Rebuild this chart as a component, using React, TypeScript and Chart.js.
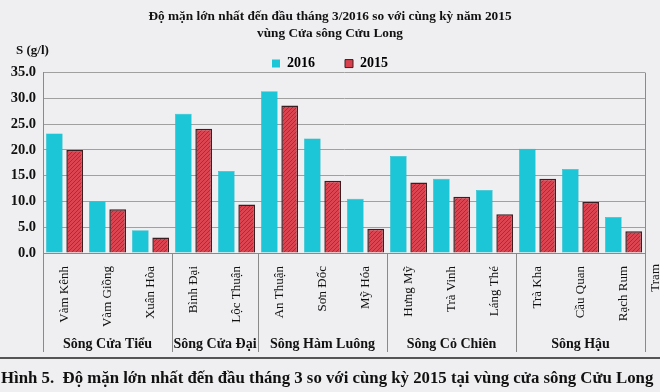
import React, { useEffect, useRef } from "react";
import { Chart, registerables } from "chart.js";

Chart.register(...registerables);

const categories = [
  "Vàm Kênh", "Vàm Giồng", "Xuân Hòa",
  "Bình Đại", "Lộc Thuận",
  "An Thuận", "Sơn Đốc", "Mỹ Hóa",
  "Hưng Mỹ", "Trà Vinh", "Láng Thé",
  "Trà Kha", "Cầu Quan", "Rạch Rum",
];
const values2016 = [23.2, 10.0, 4.4, 27.0, 15.9, 31.4, 22.2, 10.5, 18.8, 14.4, 12.2, 20.2, 16.3, 7.0];
const values2015 = [20.0, 8.5, 3.0, 24.1, 9.4, 28.6, 14.0, 4.7, 13.7, 10.9, 7.5, 14.4, 9.9, 4.2];
const groupNames = ["Sông Cửa Tiểu", "Sông Cửa Đại", "Sông Hàm Luông", "Sông Cỏ Chiên", "Sông Hậu"];
const groupSizes = [3, 2, 3, 3, 3];
const yTicks = [0, 5, 10, 15, 20, 25, 30, 35];
const titleLines = [
  "Độ mặn lớn nhất đến đầu tháng 3/2016 so với cùng kỳ năm 2015",
  "vùng Cửa sông Cửu Long",
];
const caption = "Hình 5.  Độ mặn lớn nhất đến đầu tháng 3 so với cùng kỳ 2015 tại vùng cửa sông Cửu Long";

const SERIF = "'Liberation Serif', 'DejaVu Serif', serif";
const CYAN = "#1cc6d6";
const RED = "#d8404e";

function makeHatch(): CanvasPattern | string {
  const c = document.createElement("canvas");
  c.width = 4;
  c.height = 4;
  const g = c.getContext("2d");
  if (!g) return RED;
  g.fillStyle = "#dc4452";
  g.fillRect(0, 0, 4, 4);
  g.strokeStyle = "rgba(120,10,25,0.45)";
  g.lineWidth = 1;
  g.beginPath();
  g.moveTo(0, 4);
  g.lineTo(4, 0);
  g.stroke();
  const p = g.createPattern(c, "repeat");
  return p || RED;
}

const decor = {
  id: "decor",
  beforeDraw(chart: any) {
    const ctx = chart.ctx;
    ctx.save();
    ctx.fillStyle = "#efeff1";
    ctx.fillRect(0, 0, chart.width, chart.height);
    ctx.restore();
  },
  afterDraw(chart: any) {
    const ctx = chart.ctx;
    const area = chart.chartArea;
    const xs = chart.scales.x;
    ctx.save();
    // y unit label
    ctx.fillStyle = "#111";
    ctx.font = `bold 13px ${SERIF}`;
    ctx.textAlign = "left";
    ctx.textBaseline = "middle";
    ctx.fillText("S (g/l)", 16, 51);

    // separators
    const lineBottom = 352;
    ctx.strokeStyle = "#8a8a8a";
    ctx.lineWidth = 1;
    let idx = 0;
    const bounds: number[] = [area.left];
    groupSizes.forEach((n) => {
      idx += n;
      bounds.push(idx >= categories.length ? area.right : xs.getPixelForValue(idx - 0.5));
    });
    ctx.beginPath();
    bounds.forEach((b, i) => {
      const top = i === 0 || i === bounds.length - 1 ? area.top : area.bottom;
      ctx.moveTo(Math.round(b) + 0.5, top);
      ctx.lineTo(Math.round(b) + 0.5, lineBottom);
    });
    ctx.stroke();

    // group labels
    ctx.fillStyle = "#111";
    ctx.font = `bold 14px ${SERIF}`;
    ctx.textAlign = "center";
    ctx.textBaseline = "middle";
    groupNames.forEach((g, i) => {
      ctx.fillText(g, (bounds[i] + bounds[i + 1]) / 2, 344);
    });

    // cut-off next label
    ctx.save();
    ctx.translate(656, 264);
    ctx.rotate(-Math.PI / 2);
    ctx.font = `13px ${SERIF}`;
    ctx.textAlign = "right";
    ctx.textBaseline = "middle";
    ctx.fillText("Tram", 0, 0);
    ctx.restore();

    // rule line
    ctx.strokeStyle = "#555";
    ctx.lineWidth = 2;
    ctx.beginPath();
    ctx.moveTo(0, 358);
    ctx.lineTo(660, 358);
    ctx.stroke();

    // caption
    ctx.fillStyle = "#111";
    ctx.font = `bold 16.8px ${SERIF}`;
    ctx.textAlign = "left";
    ctx.textBaseline = "middle";
    ctx.fillText(caption, 1, 379);
    ctx.restore();
  },
};

export default function App() {
  const ref = useRef<HTMLCanvasElement | null>(null);
  useEffect(() => {
    if (!ref.current) return;
    const hatch = makeHatch();
    const chart = new Chart(ref.current, {
      type: "bar",
      data: {
        labels: categories,
        datasets: [
          {
            label: "2016",
            data: values2016,
            backgroundColor: CYAN,
            borderColor: "#18b4c4",
            borderWidth: 0.5,
          },
          {
            label: "2015",
            data: values2015,
            backgroundColor: hatch as any,
            borderColor: "#3a1e22",
            borderWidth: 1.5,
          },
        ],
      },
      options: {
        responsive: false,
        animation: false,
        layout: { padding: { left: 0, right: 0, top: 0, bottom: 0 } },
        datasets: { bar: { categoryPercentage: 0.95, barPercentage: 0.82 } } as any,
        plugins: {
          title: {
            display: true,
            text: titleLines,
            color: "#111",
            font: { family: SERIF, size: 13.3, weight: "bold", lineHeight: 1.3 },
            padding: { top: 8, bottom: 12 },
          },
          legend: {
            display: true,
            maxHeight: 18,
            labels: {
              color: "#111",
              boxWidth: 8,
              boxHeight: 8,
              padding: 2,
              font: { family: SERIF, size: 14, weight: "bold" },
              generateLabels: () => [
                { text: "2016\u2003\u2003", fillStyle: CYAN, strokeStyle: CYAN, lineWidth: 0, datasetIndex: 0 },
                { text: "2015", fillStyle: RED, strokeStyle: "#3a1e22", lineWidth: 1, datasetIndex: 1 },
              ],
            },
          },
          tooltip: { enabled: false },
        },
        scales: {
          x: {
            grid: { display: false },
            border: { display: true, color: "#8a8a8a" },
            ticks: {
              autoSkip: false,
              minRotation: 90,
              maxRotation: 90,
              padding: 5,
              color: "#111",
              font: { family: SERIF, size: 13 },
            },
            afterFit: (s: any) => {
              s.height = 139;
            },
          },
          y: {
            min: 0,
            max: 35,
            afterBuildTicks: (s: any) => {
              s.ticks = yTicks.map((v) => ({ value: v }));
            },
            ticks: {
              padding: 7,
              color: "#111",
              font: { family: SERIF, size: 14.5, weight: "bold" },
              callback: (v: any) => Number(v).toFixed(1),
            },
            grid: { color: "#a0a0a0", drawTicks: false },
            border: { display: true, color: "#8a8a8a" },
            afterFit: (s: any) => {
              s.width = 43;
            },
          },
          yRight: {
            position: "right",
            display: true,
            grid: { display: false, drawTicks: false },
            border: { display: false },
            ticks: { display: false },
            afterFit: (s: any) => {
              s.width = 15;
            },
          },
        },
      },
      plugins: [decor],
    });
    return () => chart.destroy();
  }, []);
  return (
    <div style={{ position: "fixed", left: 0, top: 0, width: 660, height: 392 }}>
      <canvas ref={ref} width={660} height={392} />
    </div>
  );
}
